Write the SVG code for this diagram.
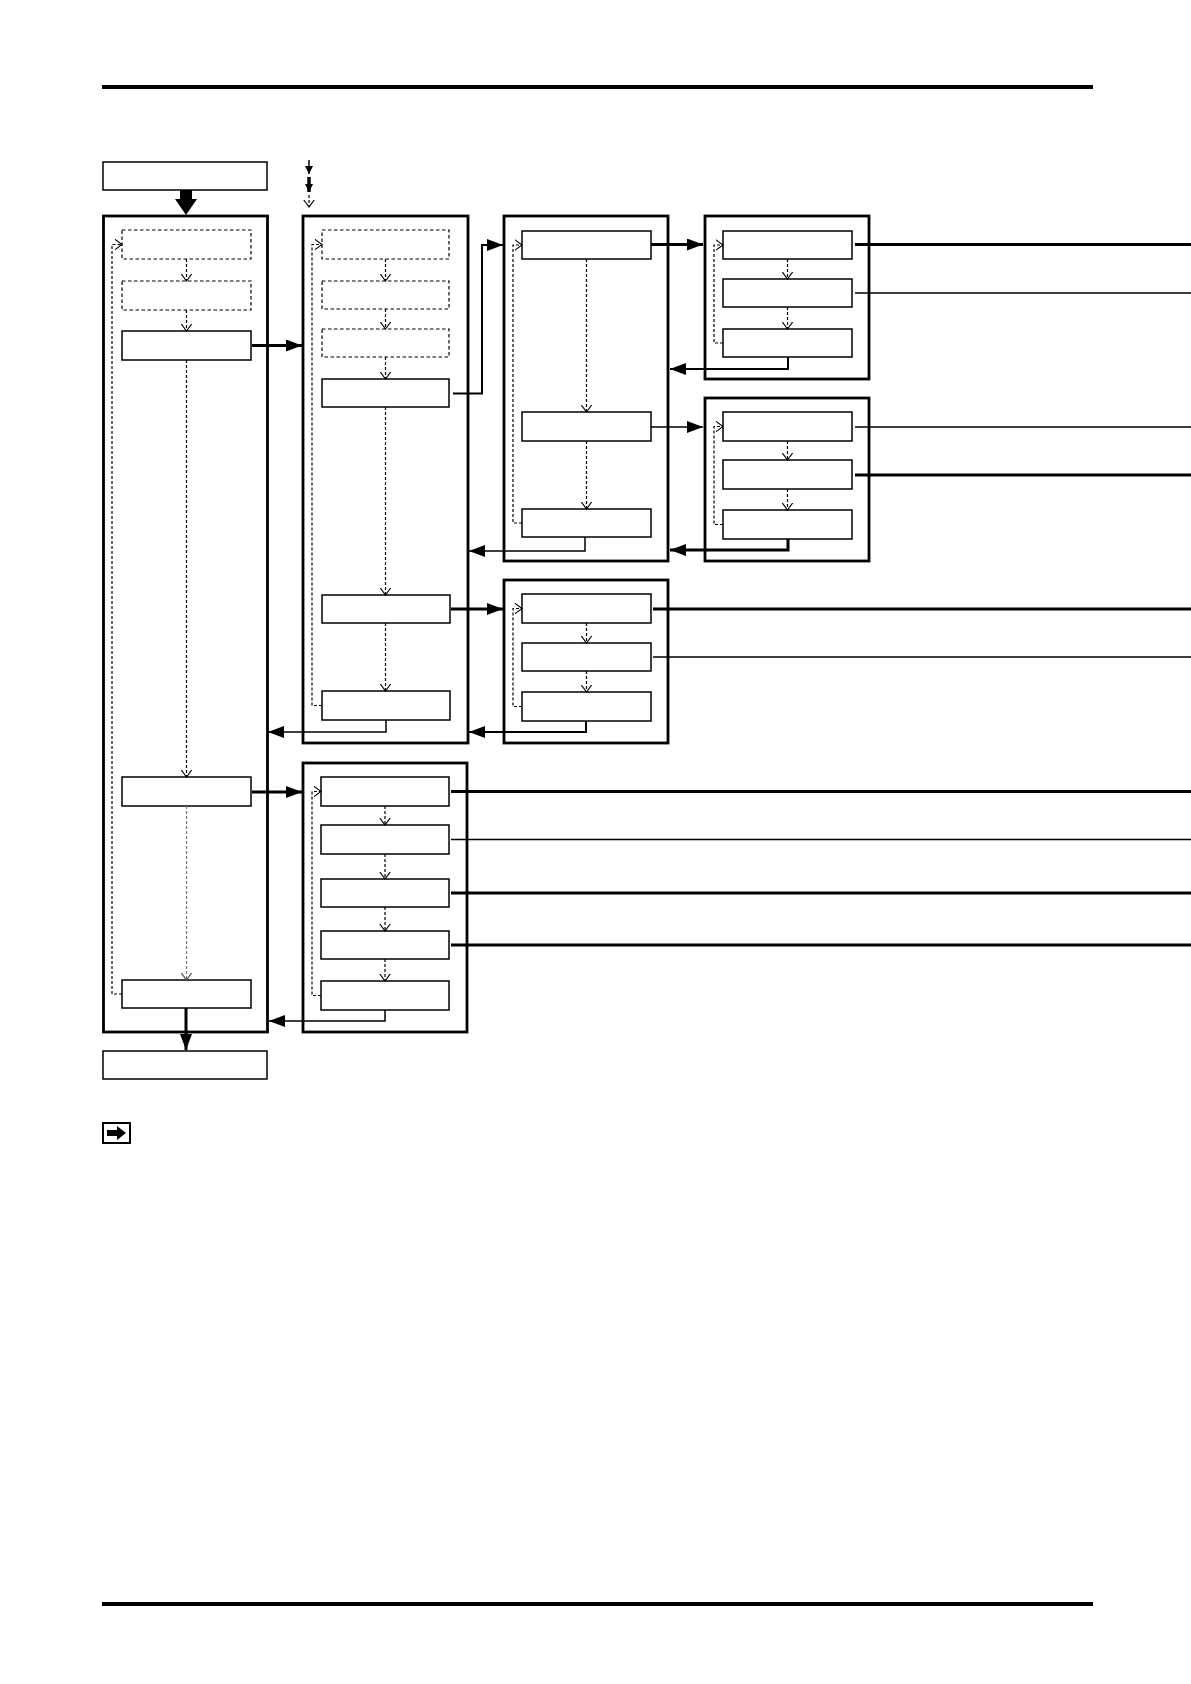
<svg xmlns="http://www.w3.org/2000/svg" width="1191" height="1684" viewBox="0 0 1191 1684">
<style>
.cont{fill:none;stroke:#000;stroke-width:2.8}
.box{fill:#fff;stroke:#000;stroke-width:1.5}
.dbox{fill:#fff;stroke:#000;stroke-width:1.2;stroke-dasharray:3.5,2.5}
.dash{fill:none;stroke:#000;stroke-width:1.2;stroke-dasharray:3,2}
.gdash{fill:none;stroke:#777;stroke-width:1.2;stroke-dasharray:3,2}
.thk{fill:none;stroke:#000;stroke-width:3}
.med{fill:none;stroke:#000;stroke-width:2}
.thn{fill:none;stroke:#000;stroke-width:1.5}
.rule{stroke:#000;stroke-width:4}
</style>
<defs>
<marker id="ah" viewBox="0 0 16 12" refX="16" refY="6" markerWidth="16" markerHeight="12" markerUnits="userSpaceOnUse" orient="auto"><path d="M0,0 L16,6 L0,12 z" fill="#000"/></marker>
<marker id="ahs" viewBox="0 0 8 8" refX="8" refY="4" markerWidth="8" markerHeight="8" markerUnits="userSpaceOnUse" orient="auto"><path d="M0,0 L8,4 L0,8 z" fill="#000"/></marker>
<marker id="oh" viewBox="0 0 8 12" refX="7.5" refY="6" markerWidth="8" markerHeight="12" markerUnits="userSpaceOnUse" orient="auto"><path d="M0,0.5 L7.5,6 L0,11.5" fill="none" stroke="#000" stroke-width="1.1"/></marker>
<marker id="ohg" viewBox="0 0 8 12" refX="7.5" refY="6" markerWidth="8" markerHeight="12" markerUnits="userSpaceOnUse" orient="auto"><path d="M0,0.5 L7.5,6 L0,11.5" fill="none" stroke="#444" stroke-width="1.1"/></marker>
</defs>
<rect width="1191" height="1684" fill="#fff"/>
<g id="rules">
<line class="rule" x1="102" y1="87" x2="1093" y2="87"/>
<line class="rule" x1="102" y1="1604" x2="1093" y2="1604"/>
</g>
<g id="legend">
<line class="thn" x1="309" y1="160" x2="309" y2="174" marker-end="url(#ahs)"/>
<line stroke="#000" stroke-width="3.5" x1="309" y1="177" x2="309" y2="192" marker-end="url(#ahs)"/>
<line class="dash" x1="309" y1="195" x2="309" y2="207" marker-end="url(#oh)"/>
</g>
<g id="start"><rect class="box" x="103" y="162" width="164" height="28"/></g>
<g id="end"><rect class="box" x="103" y="1051" width="164" height="28"/></g>
<g id="note"><rect x="103" y="1123" width="27" height="20" fill="#fff" stroke="#000" stroke-width="2"/><path d="M107,1130 L117,1130 L117,1126 L126,1133 L117,1140 L117,1136 L107,1136 z" fill="#000"/></g>
<g id="col1">
<rect class="cont" x="103.5" y="216" width="164" height="816"/>
<rect class="dbox" x="122" y="230" width="129" height="29"/>
<rect class="dbox" x="122" y="281" width="129" height="29"/>
<rect class="box" x="122" y="331" width="129" height="29"/>
<rect class="box" x="122" y="777" width="129" height="29"/>
<rect class="box" x="122" y="980" width="129" height="28"/>
</g>
<g id="col2">
<rect class="cont" x="303" y="216" width="165" height="527"/>
<rect class="dbox" x="322" y="230" width="127" height="29"/>
<rect class="dbox" x="322" y="281" width="127" height="28"/>
<rect class="dbox" x="322" y="329" width="127" height="28"/>
<rect class="box" x="322" y="379" width="127" height="28"/>
<rect class="box" x="322" y="595" width="128" height="28"/>
<rect class="box" x="322" y="691" width="128" height="29"/>
</g>
<g id="col2b">
<rect class="cont" x="303" y="763" width="164" height="269"/>
<rect class="box" x="321" y="777" width="128" height="29"/>
<rect class="box" x="321" y="825" width="128" height="29"/>
<rect class="box" x="321" y="879" width="128" height="28"/>
<rect class="box" x="321" y="931" width="128" height="28"/>
<rect class="box" x="321" y="981" width="128" height="29"/>
</g>
<g id="col3">
<rect class="cont" x="504" y="216" width="164" height="345"/>
<rect class="box" x="522" y="231" width="129" height="28"/>
<rect class="box" x="522" y="412" width="129" height="29"/>
<rect class="box" x="522" y="509" width="129" height="28"/>
</g>
<g id="col3b">
<rect class="cont" x="504" y="580" width="164" height="163"/>
<rect class="box" x="522" y="594" width="129" height="29"/>
<rect class="box" x="522" y="643" width="129" height="28"/>
<rect class="box" x="522" y="692" width="129" height="29"/>
</g>
<g id="col4a">
<rect class="cont" x="705" y="216" width="164" height="163"/>
<rect class="box" x="723" y="231" width="129" height="28"/>
<rect class="box" x="723" y="279" width="129" height="28"/>
<rect class="box" x="723" y="329" width="129" height="28"/>
</g>
<g id="col4b">
<rect class="cont" x="705" y="398" width="164" height="163"/>
<rect class="box" x="723" y="412" width="129" height="29"/>
<rect class="box" x="723" y="460" width="129" height="29"/>
<rect class="box" x="723" y="510" width="129" height="29"/>
</g>
<g id="connectors">
<path d="M180,190 L192,190 L192,199 L197,199 L186,215 L175,199 L180,199 z" fill="#000"/>
<line class="dash" x1="186.5" y1="259" x2="186.5" y2="281" marker-end="url(#oh)"/>
<line class="dash" x1="186.5" y1="310" x2="186.5" y2="331" marker-end="url(#oh)"/>
<line class="dash" x1="186.5" y1="360" x2="186.5" y2="777" marker-end="url(#oh)"/>
<line class="gdash" x1="186.5" y1="806" x2="186.5" y2="980" marker-end="url(#ohg)"/>
<line class="dash" x1="385.5" y1="259" x2="385.5" y2="281" marker-end="url(#oh)"/>
<line class="dash" x1="385.5" y1="309" x2="385.5" y2="329" marker-end="url(#oh)"/>
<line class="dash" x1="385.5" y1="357" x2="385.5" y2="379" marker-end="url(#oh)"/>
<line class="dash" x1="385.5" y1="407" x2="385.5" y2="595" marker-end="url(#oh)"/>
<line class="dash" x1="385.5" y1="623" x2="385.5" y2="691" marker-end="url(#oh)"/>
<line class="dash" x1="385" y1="806" x2="385" y2="825" marker-end="url(#oh)"/>
<line class="dash" x1="385" y1="854" x2="385" y2="879" marker-end="url(#oh)"/>
<line class="dash" x1="385" y1="907" x2="385" y2="931" marker-end="url(#oh)"/>
<line class="dash" x1="385" y1="959" x2="385" y2="981" marker-end="url(#oh)"/>
<line class="dash" x1="586.5" y1="259" x2="586.5" y2="412" marker-end="url(#oh)"/>
<line class="dash" x1="586.5" y1="441" x2="586.5" y2="509" marker-end="url(#oh)"/>
<line class="dash" x1="586.5" y1="623" x2="586.5" y2="643" marker-end="url(#oh)"/>
<line class="dash" x1="586.5" y1="671" x2="586.5" y2="692" marker-end="url(#oh)"/>
<line class="dash" x1="787.5" y1="259" x2="787.5" y2="279" marker-end="url(#oh)"/>
<line class="dash" x1="787.5" y1="307" x2="787.5" y2="329" marker-end="url(#oh)"/>
<line class="dash" x1="787.5" y1="441" x2="787.5" y2="460" marker-end="url(#oh)"/>
<line class="dash" x1="787.5" y1="489" x2="787.5" y2="510" marker-end="url(#oh)"/>
<path class="dash" d="M122,994 L112,994 L112,244.5 L122,244.5" marker-end="url(#oh)"/>
<path class="dash" d="M322,705.5 L312,705.5 L312,244.5 L322,244.5" marker-end="url(#oh)"/>
<path class="dash" d="M321,995.5 L312,995.5 L312,791.5 L321,791.5" marker-end="url(#oh)"/>
<path class="dash" d="M522,523 L513,523 L513,245 L522,245" marker-end="url(#oh)"/>
<path class="dash" d="M522,706.5 L513,706.5 L513,608.5 L522,608.5" marker-end="url(#oh)"/>
<path class="dash" d="M723,343 L714,343 L714,245 L723,245" marker-end="url(#oh)"/>
<path class="dash" d="M723,524.5 L714,524.5 L714,426.5 L723,426.5" marker-end="url(#oh)"/>
<line class="thk" x1="252" y1="345.5" x2="302" y2="345.5" marker-end="url(#ah)"/>
<path class="med" d="M453,393.5 L482,393.5 L482,245 L503,245" marker-end="url(#ah)"/>
<line class="thk" x1="651" y1="244.5" x2="703" y2="244.5" marker-end="url(#ah)"/>
<path class="med" d="M788,357 L788,369 L670,369" marker-end="url(#ah)"/>
<line class="thn" x1="651" y1="427" x2="703" y2="427" marker-end="url(#ah)"/>
<path class="thk" d="M788,539 L788,550 L670,550" marker-end="url(#ah)"/>
<path class="thn" d="M585,537 L585,551 L469,551" marker-end="url(#ah)"/>
<line class="thk" x1="451" y1="609" x2="503" y2="609" marker-end="url(#ah)"/>
<path class="med" d="M586,721 L586,732 L469,732" marker-end="url(#ah)"/>
<path class="thn" d="M386,720 L386,732 L268,732" marker-end="url(#ah)"/>
<line class="thk" x1="252" y1="792" x2="302" y2="792" marker-end="url(#ah)"/>
<path class="thn" d="M385,1010 L385,1021 L269,1021" marker-end="url(#ah)"/>
<line class="thk" x1="186" y1="1008" x2="186" y2="1050" marker-end="url(#ah)"/>
<line class="thk" x1="855" y1="244.5" x2="1191" y2="244.5"/>
<line class="thn" x1="855" y1="293" x2="1191" y2="293"/>
<line class="thn" x1="855" y1="427" x2="1191" y2="427"/>
<line class="thk" x1="855" y1="475" x2="1191" y2="475"/>
<line class="thk" x1="653" y1="609" x2="1191" y2="609"/>
<line class="thn" x1="653" y1="657" x2="1191" y2="657"/>
<line class="thk" x1="451" y1="791.5" x2="1191" y2="791.5"/>
<line class="thn" x1="451" y1="839.5" x2="1191" y2="839.5"/>
<line class="thk" x1="451" y1="893" x2="1191" y2="893"/>
<line class="thk" x1="451" y1="945" x2="1191" y2="945"/>
</g>
</svg>
